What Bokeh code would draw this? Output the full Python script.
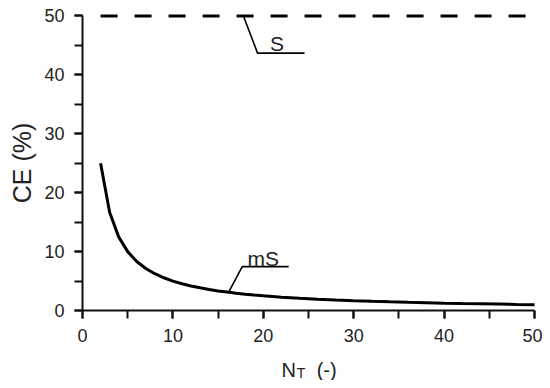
from bokeh.plotting import figure
from bokeh.models import Range1d, Label, SingleIntervalTicker
from bokeh.embed import file_html
from bokeh.resources import INLINE

# Data
nt_ms = [2, 3, 4, 5, 6, 7, 8, 9, 10, 11, 12, 13, 14, 15, 16, 17, 18, 19, 20,
         22, 24, 26, 28, 30, 32, 34, 36, 38, 40, 42, 44, 46, 48, 50]
ce_ms = [25.0, 16.7, 12.5, 10.0, 8.33, 7.14, 6.25, 5.56, 5.0, 4.55, 4.17, 3.85, 3.57, 3.33,
         3.13, 2.94, 2.78, 2.63, 2.5, 2.27, 2.08, 1.92, 1.79, 1.67, 1.56, 1.47, 1.39, 1.32,
         1.25, 1.19, 1.14, 1.09, 1.04, 1.0]
nt_s = [2, 50]
ce_s = [50, 50]

# annotation leader lines
lead_s_x = [17.8, 19.36, 24.56]
lead_s_y = [50, 43.7, 43.7]
lead_ms_x = [16.2, 17.67, 22.8]
lead_ms_y = [3.2, 7.46, 7.46]

FONT = "Liberation Sans"
INK = "#222222"

p = figure(width=542, height=380, output_backend="svg", toolbar_location=None,
           x_range=Range1d(-9.07, 50.88), y_range=Range1d(-11.88, 52.63),
           min_border_left=0, min_border_right=0, min_border_top=0, min_border_bottom=0)
p.outline_line_color = None
p.xgrid.visible = False
p.ygrid.visible = False
p.background_fill_color = "white"

for ax in (p.xaxis[0], p.yaxis[0]):
    ax.fixed_location = 0
    ax.bounds = (0, 50)
    ax.ticker = SingleIntervalTicker(interval=10, num_minor_ticks=2)
    ax.axis_line_width = 2
    ax.axis_line_color = "#111111"
    ax.major_tick_line_width = 2
    ax.minor_tick_line_width = 2
    ax.major_tick_line_color = "#111111"
    ax.minor_tick_line_color = "#111111"
    ax.major_tick_in = 0
    ax.major_tick_out = 8
    ax.minor_tick_in = 0
    ax.minor_tick_out = 8
    ax.major_label_text_font = FONT
    ax.major_label_text_font_size = "18px"
    ax.major_label_text_color = INK
    ax.major_label_standoff = 10

p.yaxis.axis_label = "CE (%)"
p.yaxis.axis_label_text_font = FONT
p.yaxis.axis_label_text_font_size = "25px"
p.yaxis.axis_label_text_font_style = "normal"
p.yaxis.axis_label_text_color = INK
p.yaxis.axis_label_standoff = 5

p.line(nt_ms, ce_ms, line_width=3, line_color="black")
p.line(nt_s, ce_s, line_width=3, line_color="black", line_dash="17 17")
p.line(lead_s_x, lead_s_y, line_width=1.6, line_color="black")
p.line(lead_ms_x, lead_ms_y, line_width=1.6, line_color="black")

p.add_layout(Label(x=21.5, y=45.3, text="S", text_font=FONT, text_font_size="21px",
                   text_align="center", text_baseline="alphabetic", text_color=INK))
p.add_layout(Label(x=20.0, y=8.8, text="mS", text_font=FONT, text_font_size="21px",
                   text_align="center", text_baseline="alphabetic", text_color=INK))

# x axis label N_T (-)
p.add_layout(Label(x=22.0, y=-10.1, text="N", text_font=FONT, text_font_size="20px",
                   text_align="left", text_baseline="alphabetic", text_color=INK))
p.add_layout(Label(x=23.7, y=-10.6, text="T", text_font=FONT, text_font_size="14px",
                   text_align="left", text_baseline="alphabetic", text_color=INK))
p.add_layout(Label(x=25.9, y=-10.1, text="(-)", text_font=FONT, text_font_size="20px",
                   text_align="left", text_baseline="alphabetic", text_color=INK))

open("out.html", "w").write(file_html(p, INLINE))
